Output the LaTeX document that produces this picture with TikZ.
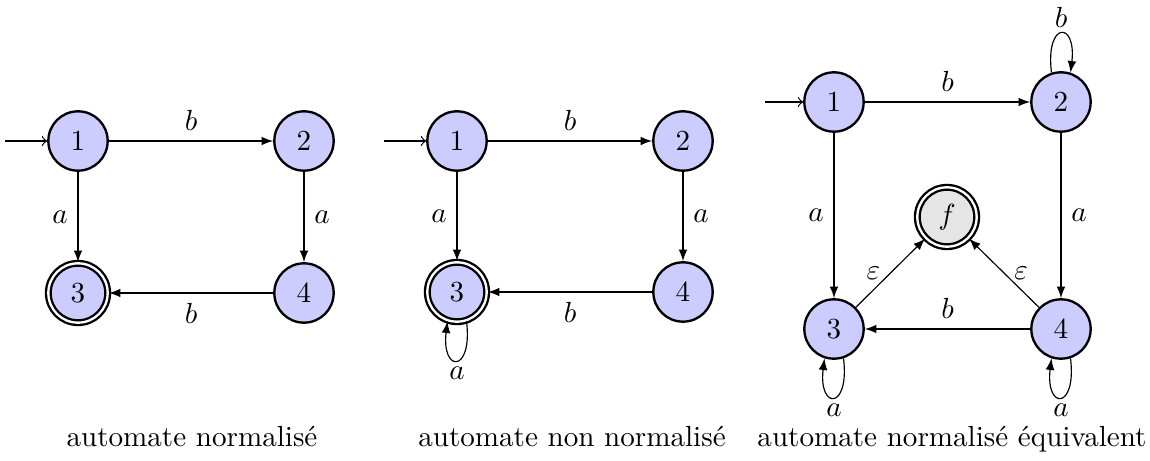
\documentclass[tikz,border=0pt]{standalone}
\usetikzlibrary{arrows}
\begin{document}
\begin{tikzpicture}[x=0.34363pt,y=0.34363pt,
  st/.style={circle,draw,thick,fill=blue!20,minimum size=20.4pt,inner sep=0pt},
  fin/.style={circle,draw,thick,fill=gray!20,minimum size=20.4pt,inner sep=0pt},
  acc/.style={double,double distance=0.8pt},
  tr/.style={-latex,thin},
  ini/.style={->,thin},
  lp/.style={inner sep=2pt},
  captext/.style={anchor=base}]
\useasboundingbox (0,0) rectangle (1150,-461);
% automaton 1
\node[st] (a1) at (78,-141) {1};
\node[st] (a2) at (304,-141) {2};
\node[st,acc] (a3) at (78,-293) {3};
\node[st] (a4) at (304,-293) {4};
\coordinate (ai) at (5,-141);
\draw[ini] (ai) -- (a1);
\draw[tr] (a1) -- node[above] {$b$} (a2);
\draw[tr] (a1) -- node[left] {$a$} (a3);
\draw[tr] (a2) -- node[right] {$a$} (a4);
\draw[tr] (a4) -- node[below] {$b$} (a3);
\node[captext] (c1) at (192,-447) {automate normalisé};
% automaton 2
\node[st] (b1) at (457,-141) {1};
\node[st] (b2) at (683,-141) {2};
\node[st,acc] (b3) at (457,-292) {3};
\node[st] (b4) at (683,-292) {4};
\coordinate (bi) at (384,-141);
\draw[ini] (bi) -- (b1);
\draw[tr] (b1) -- node[above] {$b$} (b2);
\draw[tr] (b1) -- node[left] {$a$} (b3);
\draw[tr] (b2) -- node[right] {$a$} (b4);
\draw[tr] (b4) -- node[below] {$b$} (b3);
\draw[tr] (b3.-72) .. controls +(-83:18pt) and +(-97:18pt) .. node[below,lp] {$a$} (b3.-108);
\node[captext] (c2) at (572,-447) {automate non normalisé};
% automaton 3
\node[st] (d1) at (834,-102) {1};
\node[st] (d2) at (1061,-102) {2};
\node[fin,acc] (df) at (947,-217) {$f$};
\node[st] (d3) at (834,-329) {3};
\node[st] (d4) at (1061,-329) {4};
\coordinate (di) at (765,-102);
\draw[ini] (di) -- (d1);
\draw[tr] (d1) -- node[above] {$b$} (d2);
\draw[tr] (d1) -- node[left] {$a$} (d3);
\draw[tr] (d2) -- node[right] {$a$} (d4);
\draw[tr] (d4) -- node[above] {$b$} (d3);
\draw[tr] (d3) -- node[left] {$\varepsilon$} (df);
\draw[tr] (d4) -- node[right] {$\varepsilon$} (df);
\draw[tr] (d2.108) .. controls +(97:18pt) and +(83:18pt) .. node[above,lp] {$b$} (d2.72);
\draw[tr] (d3.-72) .. controls +(-83:18pt) and +(-97:18pt) .. node[below,lp] {$a$} (d3.-108);
\draw[tr] (d4.-72) .. controls +(-83:18pt) and +(-97:18pt) .. node[below,lp] {$a$} (d4.-108);
\node[captext] (c3) at (952,-447) {automate normalisé équivalent};
\end{tikzpicture}
\end{document}
